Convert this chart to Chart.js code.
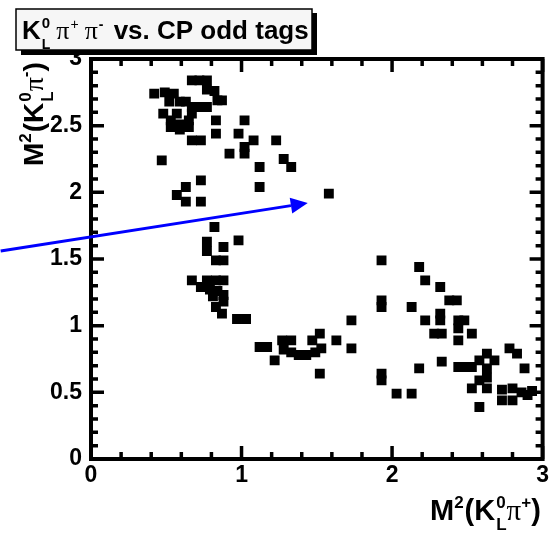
<!DOCTYPE html>
<html>
<head>
<meta charset="utf-8">
<script src="https://cdn.jsdelivr.net/npm/chart.js@4/dist/chart.umd.min.js"></script>
<style>
  html, body { margin: 0; padding: 0; background: #fff; }
  #c { display: block; }
</style>
</head>
<body>
<canvas id="c" width="552" height="535"></canvas>
<script>
// Dalitz plot: K_L pi+ pi- vs. CP odd tags
const xTicks = [0, 1, 2, 3];
const yTicks = [0, 0.5, 1, 1.5, 2, 2.5, 3];

// M^2(K_L pi+) values
const xVals = [
  0.42, 0.49, 0.55, 0.52, 0.59, 0.63, 0.67, 0.72, 0.77, 0.77, 0.82, 0.84, 0.87, 0.67, 0.72, 0.77,
  0.48, 0.57, 0.67, 0.53, 0.53, 0.59, 0.65, 0.65, 0.59, 0.83, 1.02, 0.83, 0.98, 0.67, 0.73, 1.08,
  1.23, 0.92, 1.02, 1.02, 0.47, 1.12, 1.28, 1.33, 1.12, 1.58,
  0.73, 0.63, 0.57, 0.63, 0.73,
  0.82, 0.77, 0.77, 0.88, 0.98, 0.83, 0.88, 0.67, 0.77, 0.83, 0.88, 0.73, 0.79, 0.84, 0.88, 0.81,
  0.88, 0.83, 0.87, 0.97, 1.03,
  1.12, 1.17, 1.27, 1.33, 1.28, 1.33, 1.38, 1.43, 1.49, 1.22, 1.47, 1.52, 1.53, 1.63, 1.73, 1.73, 1.52,
  1.93, 2.18, 2.22, 2.32, 2.38, 2.43, 1.93, 1.93, 2.13, 2.22, 2.32, 2.32, 2.44, 2.48, 2.44, 2.28,
  2.33, 2.53, 2.44, 2.78, 2.83, 2.63, 2.58, 2.68, 2.44, 2.50, 2.53, 2.33, 2.18, 2.63, 2.63, 2.58,
  2.63, 2.53, 2.88, 2.73, 2.80, 2.86, 2.90, 2.73, 2.80, 2.58, 1.93, 1.93, 2.03, 2.13, 2.93
];
// M^2(K_L pi-) values
const yVals = [
  2.74, 2.75, 2.74, 2.68, 2.68, 2.68, 2.84, 2.84, 2.84, 2.77, 2.76, 2.69, 2.69, 2.64, 2.64, 2.64,
  2.59, 2.59, 2.59, 2.54, 2.49, 2.51, 2.54, 2.49, 2.47, 2.54, 2.54, 2.44, 2.44, 2.39, 2.39, 2.39,
  2.39, 2.29, 2.34, 2.29, 2.24, 2.19, 2.25, 2.19, 2.04, 1.99,
  2.09, 2.04, 1.98, 1.93, 1.93,
  1.74, 1.63, 1.56, 1.59, 1.64, 1.49, 1.49, 1.34, 1.34, 1.34, 1.34, 1.29, 1.27, 1.26, 1.23, 1.22,
  1.18, 1.14, 1.09, 1.05, 1.05,
  0.84, 0.84, 0.89, 0.89, 0.82, 0.80, 0.78, 0.78, 0.80, 0.74, 0.89, 0.94, 0.83, 0.89, 0.83, 1.04, 0.64,
  1.49, 1.44, 1.34, 1.29, 1.19, 1.19, 1.19, 1.14, 1.14, 1.04, 1.09, 1.04, 1.04, 1.04, 0.98, 0.94,
  0.94, 0.94, 0.89, 0.83, 0.79, 0.79, 0.74, 0.74, 0.69, 0.69, 0.69, 0.73, 0.68, 0.68, 0.61, 0.59,
  0.53, 0.53, 0.68, 0.52, 0.53, 0.50, 0.48, 0.44, 0.44, 0.39, 0.64, 0.59, 0.49, 0.49, 0.51
];

// blue arrow, in data coordinates
const arrowFrom = { x: -0.60, y: 1.56 };
const arrowTo = { x: 1.44, y: 1.92 };

const SANS = '"Liberation Sans", Arial, sans-serif';
const SERIF = '"Liberation Serif", "Times New Roman", serif';

const points = xVals.map((x, i) => ({ x: x, y: yVals[i] }));

// draw a run of text pieces; a piece with stack:true shares its x with the next one
function drawRich(ctx, x, y, pieces) {
  let cx = x;
  for (let i = 0; i < pieces.length; i++) {
    const p = pieces[i];
    ctx.font = p.font;
    ctx.fillText(p.t, cx, y + (p.dy || 0));
    let w = ctx.measureText(p.t).width;
    if (p.stack) {
      const q = pieces[++i];
      ctx.font = q.font;
      ctx.fillText(q.t, cx, y + (q.dy || 0));
      w = Math.max(w, ctx.measureText(q.t).width);
      cx += w + (q.gap || 0);
    } else {
      cx += w + (p.gap || 0);
    }
  }
  return cx - x;
}

function axisTitle(pm, size) {
  const big = 'bold ' + size + 'px ' + SANS;
  const small = 'bold ' + Math.round(size * 0.6) + 'px ' + SANS;
  const up = -Math.round(size * 0.43);
  return [
    { t: 'M', font: big },
    { t: '2', font: small, dy: up, gap: 1 },
    { t: '(', font: big },
    { t: 'K', font: big, gap: 1 },
    { t: '0', font: small, dy: up, stack: true },
    { t: 'L', font: small, dy: Math.round(size * 0.36) },
    { t: '\u03c0', font: size + 'px ' + SERIF },
    { t: pm, font: small, dy: up },
    { t: ')', font: big }
  ];
}

const decor = {
  id: 'decor',
  afterDatasetsDraw(chart) {
    const { ctx, chartArea: a, scales: { x, y } } = chart;
    ctx.save();
    ctx.strokeStyle = '#000';
    ctx.lineWidth = 3.5;
    ctx.lineCap = 'butt';
    // ticks on all four sides, pointing inward
    ctx.beginPath();
    for (let i = 0; i <= 15; i++) {
      const px = x.getPixelForValue(i * 0.2);
      const len = i % 5 === 0 ? 13 : 7;
      ctx.moveTo(px, a.bottom); ctx.lineTo(px, a.bottom - len);
      ctx.moveTo(px, a.top); ctx.lineTo(px, a.top + len);
    }
    for (let i = 0; i <= 30; i++) {
      const py = y.getPixelForValue(i * 0.1);
      const len = i % 5 === 0 ? 13 : 7;
      ctx.moveTo(a.left, py); ctx.lineTo(a.left + len, py);
      ctx.moveTo(a.right, py); ctx.lineTo(a.right - len, py);
    }
    ctx.stroke();
    // frame
    ctx.lineWidth = 4;
    ctx.strokeRect(a.left, a.top, a.right - a.left, a.bottom - a.top);
    ctx.restore();
  },
  afterDraw(chart) {
    const { ctx, scales: { x, y } } = chart;
    ctx.save();

    // blue arrow
    const x0 = x.getPixelForValue(arrowFrom.x), y0 = y.getPixelForValue(arrowFrom.y);
    const x1 = x.getPixelForValue(arrowTo.x), y1 = y.getPixelForValue(arrowTo.y);
    const ang = Math.atan2(y1 - y0, x1 - x0);
    const hl = 17, hw = 8;
    const bx = x1 - hl * Math.cos(ang), by = y1 - hl * Math.sin(ang);
    ctx.strokeStyle = '#0000ff';
    ctx.fillStyle = '#0000ff';
    ctx.lineWidth = 3;
    ctx.beginPath();
    ctx.moveTo(x0, y0);
    ctx.lineTo(bx, by);
    ctx.stroke();
    ctx.beginPath();
    ctx.moveTo(x1, y1);
    ctx.lineTo(bx + hw * Math.sin(ang), by - hw * Math.cos(ang));
    ctx.lineTo(bx - hw * Math.sin(ang), by + hw * Math.cos(ang));
    ctx.closePath();
    ctx.fill();

    // title box with shadow
    ctx.fillStyle = '#000';
    ctx.fillRect(21, 13, 296, 42);
    ctx.fillStyle = '#f6f6f6';
    ctx.fillRect(16, 9, 296, 41);
    ctx.strokeStyle = '#000';
    ctx.lineWidth = 1.5;
    ctx.strokeRect(16, 9, 296, 41);

    ctx.fillStyle = '#000';
    ctx.textBaseline = 'alphabetic';
    ctx.textAlign = 'left';
    drawRich(ctx, 22, 39, [
      { t: 'K', font: 'bold 26px ' + SANS, gap: 1 },
      { t: '0', font: 'bold 15px ' + SANS, dy: -11, stack: true },
      { t: 'L', font: 'bold 14px ' + SANS, dy: 10, gap: 6 },
      { t: '\u03c0', font: '26px ' + SERIF, gap: 1 },
      { t: '+', font: '14px ' + SANS, dy: -10, gap: 6 },
      { t: '\u03c0', font: '26px ' + SERIF, gap: 1 },
      { t: '-', font: 'bold 14px ' + SANS, dy: -10, gap: 3 },
      { t: ' vs. CP odd tags', font: 'bold 26px ' + SANS }
    ]);

    // x axis title
    drawRich(ctx, 430, 520, axisTitle('+', 29));

    // y axis title, rotated
    ctx.translate(43, 166);
    ctx.rotate(-Math.PI / 2);
    drawRich(ctx, 0, 0, axisTitle('-', 28));
    ctx.restore();
  }
};

new Chart(document.getElementById('c'), {
  type: 'scatter',
  data: {
    datasets: [{
      data: points,
      pointStyle: 'rect',
      pointRadius: 7,
      pointHoverRadius: 7,
      pointBorderWidth: 0,
      backgroundColor: '#000',
      borderColor: '#000'
    }]
  },
  options: {
    responsive: false,
    animation: false,
    devicePixelRatio: 1,
    layout: { padding: { top: 59, right: 6, left: 0, bottom: 0 } },
    events: [],
    plugins: { legend: { display: false }, tooltip: { enabled: false } },
    scales: {
      x: {
        type: 'linear',
        min: 0, max: 3,
        afterBuildTicks: s => { s.ticks = xTicks.map(v => ({ value: v })); },
        afterFit: s => { s.height = 76; },
        grid: { display: false, drawTicks: false },
        border: { display: false },
        ticks: {
          autoSkip: false,
          maxRotation: 0,
          padding: 3,
          color: '#000',
          font: { family: SANS, size: 23, weight: 'bold' },
          callback: v => String(v)
        }
      },
      y: {
        type: 'linear',
        min: 0, max: 3,
        afterBuildTicks: s => { s.ticks = yTicks.map(v => ({ value: v })); },
        afterFit: s => { s.width = 91; },
        grid: { display: false, drawTicks: false },
        border: { display: false },
        ticks: {
          autoSkip: false,
          padding: 9,
          color: '#000',
          font: { family: SANS, size: 23, weight: 'bold' },
          callback: v => String(v)
        }
      }
    }
  },
  plugins: [decor]
});
</script>
</body>
</html>
